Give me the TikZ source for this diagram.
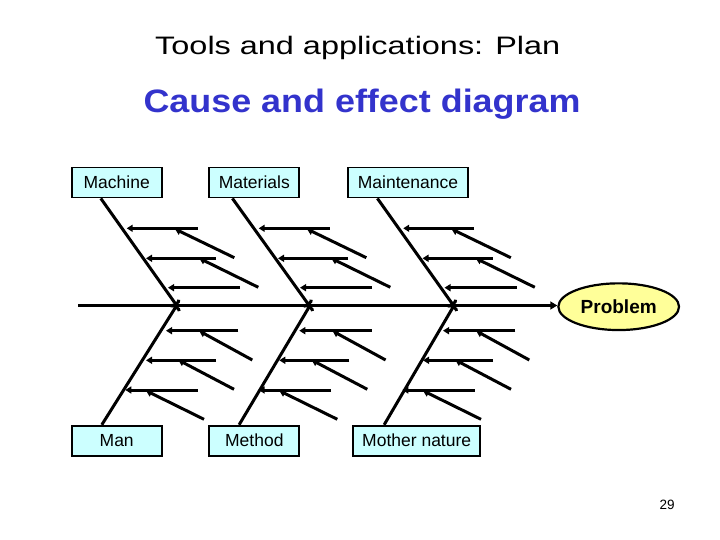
\documentclass[tikz,border=0pt]{standalone}
\usepackage{fontspec}
\setmainfont{Liberation Sans}
\usepackage{graphicx}
\usetikzlibrary{arrows.meta,calc,shapes.geometric}
\definecolor{boxfill}{HTML}{CCFFFF}
\definecolor{probfill}{HTML}{FFFF99}
\definecolor{titleblue}{HTML}{3333CC}
\begin{document}
\begin{tikzpicture}[x=1pt,y=-1pt,
  cause/.style={draw, line width=1.8pt, fill=boxfill, minimum height=30pt, inner sep=0pt,
                font=\fontsize{17.5}{20}\selectfont},
  bone/.style={line width=3pt, -{Arc Barb[length=3.5pt,width=13pt]}},
  twig/.style={line width=3pt, -{Triangle[length=6pt,width=7pt]}},
  spine/.style={line width=3pt, -{Triangle[length=7pt,width=8pt]}}]
\useasboundingbox (0,0) rectangle (720,540);

% titles
\node[anchor=base west, inner sep=0pt] (title) at (155,54.7)
  {\resizebox{405pt}{18.3pt}{Tools and applications: Plan}};
\node[anchor=base west, inner sep=0pt, text=titleblue] (subtitle) at (143.3,112.5)
  {\resizebox{437pt}{23.5pt}{\bfseries Cause and effect diagram}};

% cause boxes
\node[cause, minimum width=90pt]    (machine)     at (116.7,182.5) {Machine};
\node[cause, minimum width=90pt]    (materials)   at (254.3,182.5) {Materials};
\node[cause, minimum width=120.6pt] (maintenance) at (408.0,182.5) {Maintenance};
\node[cause, minimum width=90pt]    (man)         at (116.7,440.7) {Man};
\node[cause, minimum width=90pt]    (method)      at (254.3,440.7) {Method};
\node[cause, minimum width=126.7pt] (mother)      at (416.7,440.7) {Mother nature};

% problem
\node[draw, ellipse, line width=2.2pt, fill=probfill, minimum width=120.7pt, minimum height=46.7pt,
      inner sep=0pt, font=\fontsize{19}{22}\selectfont\bfseries] (problem) at (618.7,306.7) {Problem};

% spine
\coordinate (tail) at (78,305.5);
\draw[spine] (tail) -- (problem.west |- tail);

% junctions on spine
\coordinate (j1) at (176.7,305.5);
\coordinate (j2) at (309.2,305.5);
\coordinate (j3) at (453.5,305.5);
\coordinate (k1) at (176.7,305.5);
\coordinate (k2) at (310.0,305.5);
\coordinate (k3) at (454.0,305.5);

% main bones
\draw[bone] ($(machine.south west)+(30,0)$)       -- (j1);
\draw[bone] ($(materials.south west)+(24,0)$)     -- (j2);
\draw[bone] ($(maintenance.south west)+(30.6,0)$) -- (j3);
\draw[bone] ($(man.north west)+(31,0)$)           -- (k1);
\draw[bone] ($(method.north west)+(30.7,0)$)      -- (k2);
\draw[bone] ($(mother.north west)+(31.7,0)$)      -- (k3);

% upper sub-causes
\foreach \dx in {0,132,276.5}{
  \begin{scope}[xshift=\dx pt]
    \coordinate (uh1s) at (197.7,228.3); \coordinate (uh1e) at (126.7,228.3);
    \coordinate (uh2s) at (216.0,258.3); \coordinate (uh2e) at (146.0,258.3);
    \coordinate (uh3s) at (240.0,287.7); \coordinate (uh3e) at (168.0,287.7);
    \coordinate (ud1s) at (234.3,257.7); \coordinate (ud1e) at (175.0,229.0);
    \coordinate (ud2s) at (258.3,287.3); \coordinate (ud2e) at (199.3,258.3);
    \draw[twig] (uh1s) -- (uh1e);
    \draw[twig] (uh2s) -- (uh2e);
    \draw[twig] (uh3s) -- (uh3e);
    \draw[twig] (ud1s) -- (ud1e);
    \draw[twig] (ud2s) -- (ud2e);
  \end{scope}
}

% lower sub-causes
\foreach \dx in {0,133.3,277}{
  \begin{scope}[xshift=\dx pt]
    \coordinate (lh1s) at (238.3,330.7); \coordinate (lh1e) at (166.0,330.7);
    \coordinate (lh2s) at (216.0,360.3); \coordinate (lh2e) at (146.0,360.3);
    \coordinate (lh3s) at (197.7,390.0); \coordinate (lh3e) at (125.3,390.0);
    \coordinate (ld1s) at (252.3,360.0); \coordinate (ld1e) at (199.3,331.0);
    \coordinate (ld2s) at (234.0,389.3); \coordinate (ld2e) at (178.3,360.0);
    \coordinate (ld3s) at (204.0,419.3); \coordinate (ld3e) at (146.0,390.7);
    \draw[twig] (lh1s) -- (lh1e);
    \draw[twig] (lh2s) -- (lh2e);
    \draw[twig] (lh3s) -- (lh3e);
    \draw[twig] (ld1s) -- (ld1e);
    \draw[twig] (ld2s) -- (ld2e);
    \draw[twig] (ld3s) -- (ld3e);
  \end{scope}
}

% page number
\node[anchor=base, inner sep=0pt, font=\fontsize{13.5}{16}\selectfont] (page) at (667,509) {29};
\end{tikzpicture}
\end{document}
